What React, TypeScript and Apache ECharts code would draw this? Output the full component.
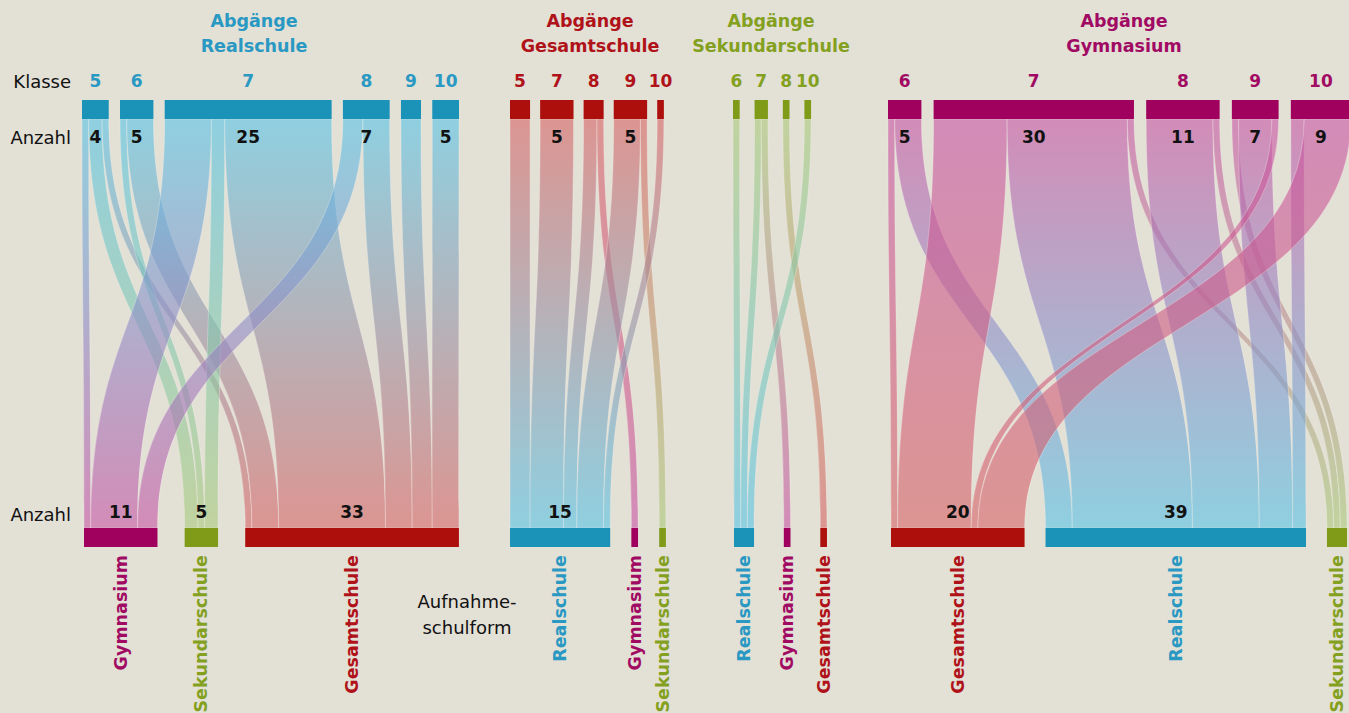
import React, { useEffect, useRef } from 'react';
import * as echarts from 'echarts';

// ---------------- data ----------------
// Abgänge Realschule
const realClasses = ['5', '6', '7', '8', '9', '10'];
const realClassCounts: (number | null)[] = [4, 5, 25, 7, null, 5];
const realTargets = ['Gymnasium', 'Sekundarschule', 'Gesamtschule'];
const realTargetCounts: (number | null)[] = [11, 5, 33];
const realFlows: [string, string, number][] = [
  ['5', 'Gymnasium', 1], ['5', 'Sekundarschule', 2], ['5', 'Gesamtschule', 1],
  ['6', 'Sekundarschule', 1], ['6', 'Gesamtschule', 4],
  ['7', 'Gymnasium', 7], ['7', 'Sekundarschule', 2], ['7', 'Gesamtschule', 16],
  ['8', 'Gymnasium', 3], ['8', 'Gesamtschule', 4],
  ['9', 'Gesamtschule', 3],
  ['10', 'Gesamtschule', 4],
];

// Abgänge Gesamtschule
const gesClasses = ['5', '7', '8', '9', '10'];
const gesClassCounts: (number | null)[] = [null, 5, null, 5, null];
const gesTargets = ['Realschule', 'Gymnasium', 'Sekundarschule'];
const gesTargetCounts: (number | null)[] = [15, null, null];
const gesFlows: [string, string, number][] = [
  ['5', 'Realschule', 3],
  ['7', 'Realschule', 5],
  ['8', 'Realschule', 2], ['8', 'Gymnasium', 1],
  ['9', 'Realschule', 4], ['9', 'Sekundarschule', 1],
  ['10', 'Realschule', 1],
];

// Abgänge Sekundarschule
const sekClasses = ['6', '7', '8', '10'];
const sekClassCounts: (number | null)[] = [null, null, null, null];
const sekTargets = ['Realschule', 'Gymnasium', 'Gesamtschule'];
const sekTargetCounts: (number | null)[] = [null, null, null];
const sekFlows: [string, string, number][] = [
  ['6', 'Realschule', 1],
  ['7', 'Realschule', 1], ['7', 'Gymnasium', 1],
  ['8', 'Gesamtschule', 1],
  ['10', 'Realschule', 1],
];

// Abgänge Gymnasium
const gymClasses = ['6', '7', '8', '9', '10'];
const gymClassCounts: (number | null)[] = [5, 30, 11, 7, 9];
const gymTargets = ['Gesamtschule', 'Realschule', 'Sekundarschule'];
const gymTargetCounts: (number | null)[] = [20, 39, null];
const gymFlows: [string, string, number][] = [
  ['6', 'Gesamtschule', 1], ['6', 'Realschule', 4],
  ['7', 'Gesamtschule', 11], ['7', 'Realschule', 18], ['7', 'Sekundarschule', 1],
  ['8', 'Realschule', 10], ['8', 'Sekundarschule', 1],
  ['9', 'Sekundarschule', 1], ['9', 'Realschule', 5], ['9', 'Gesamtschule', 1],
  ['10', 'Realschule', 2], ['10', 'Gesamtschule', 7],
];

// ---------------- styling / layout ----------------
const BG = '#e3e0d6';
const COLORS: Record<string, { node: string; text: string; flow: string }> = {
  Realschule: { node: '#1b93b9', text: '#2999c3', flow: 'rgba(87,196,231,0.6)' },
  Gesamtschule: { node: '#ad0f0c', text: '#b01219', flow: 'rgba(215,99,100,0.6)' },
  Sekundarschule: { node: '#7f9b17', text: '#84a01f', flow: 'rgba(170,202,122,0.6)' },
  Gymnasium: { node: '#a0005e', text: '#a10a63', flow: 'rgba(199,84,164,0.6)' },
};
const FONT = '"DejaVu Sans", sans-serif';
const X_MAX = 202; // persons across the canvas width
const TOP_Y0 = 100, TOP_Y1 = 119, BOT_Y0 = 528, BOT_Y1 = 547;

const groups = [
  { type: 'Realschule', title: 'Abgänge\nRealschule', titleX: 254,
    classes: realClasses, classCounts: realClassCounts, targets: realTargets, targetCounts: realTargetCounts, flows: realFlows,
    topStart: 12.28, topGap: 1.69, botStart: 12.58, botGap: 4.07 },
  { type: 'Gesamtschule', title: 'Abgänge\nGesamtschule', titleX: 590,
    classes: gesClasses, classCounts: gesClassCounts, targets: gesTargets, targetCounts: gesTargetCounts, flows: gesFlows,
    topStart: 76.37, topGap: 1.51, botStart: 76.37, botGap: 3.17 },
  { type: 'Sekundarschule', title: 'Abgänge\nSekundarschule', titleX: 771,
    classes: sekClasses, classCounts: sekClassCounts, targets: sekTargets, targetCounts: sekTargetCounts, flows: sekFlows,
    topStart: 109.76, topGap: 2.23, botStart: 109.91, botGap: 4.46 },
  { type: 'Gymnasium', title: 'Abgänge\nGymnasium', titleX: 1124,
    classes: gymClasses, classCounts: gymClassCounts, targets: gymTargets, targetCounts: gymTargetCounts, flows: gymFlows,
    topStart: 132.97, topGap: 1.83, botStart: 133.42, botGap: 3.14 },
];

type NodeItem = { x0: number; x1: number; layer: 0 | 1; color: string; name: string; count: number | null };
type FlowItem = { a0: number; a1: number; b0: number; b1: number; src: string; tgt: string };

const nodeItems: NodeItem[] = [];
const flowItems: FlowItem[] = [];

groups.forEach((g) => {
  const topVals = g.classes.map((c) => g.flows.filter((f) => f[0] === c).reduce((s, f) => s + f[2], 0));
  const botVals = g.targets.map((t) => g.flows.filter((f) => f[1] === t).reduce((s, f) => s + f[2], 0));
  const topPos: number[] = [];
  let x = g.topStart;
  topVals.forEach((v, i) => {
    topPos.push(x);
    nodeItems.push({ x0: x, x1: x + v, layer: 0, color: g.type, name: g.classes[i], count: g.classCounts[i] });
    x += v + g.topGap;
  });
  const botPos: number[] = [];
  x = g.botStart;
  botVals.forEach((v, i) => {
    botPos.push(x);
    nodeItems.push({ x0: x, x1: x + v, layer: 1, color: g.targets[i], name: g.targets[i], count: g.targetCounts[i] });
    x += v + g.botGap;
  });
  const topCur = topPos.slice();
  const botCur = botPos.slice();
  g.flows.forEach(([s, t, v]) => {
    const si = g.classes.indexOf(s);
    const ti = g.targets.indexOf(t);
    const a0 = topCur[si];
    const b0 = botCur[ti];
    topCur[si] += v;
    botCur[ti] += v;
    flowItems.push({ a0, a1: a0 + v, b0, b1: b0 + v, src: g.type, tgt: t });
  });
});

export default function App() {
  const ref = useRef<HTMLDivElement>(null);
  useEffect(() => {
    if (!ref.current) return;
    const chart = echarts.init(ref.current, null, { renderer: 'svg' });
    const textBase = { fontFamily: FONT };
    chart.setOption({
      animation: false,
      backgroundColor: BG,
      grid: { left: 0, right: 0, top: 0, bottom: 0 },
      xAxis: { type: 'value', min: 0, max: X_MAX, show: false },
      yAxis: { type: 'value', min: 0, max: 713, inverse: true, show: false },
      graphic: [
        ...groups.map((g) => ({
          type: 'text', x: g.titleX, y: 8,
          style: { ...textBase, text: g.title, align: 'center', verticalAlign: 'top', lineHeight: 25,
            fontSize: 17.5, fontWeight: 'bold', fill: COLORS[g.type].text },
        })),
        { type: 'text', x: 71, y: 81, style: { ...textBase, text: 'Klasse', align: 'right', verticalAlign: 'middle', fontSize: 18, fill: '#111' } },
        { type: 'text', x: 71, y: 137, style: { ...textBase, text: 'Anzahl', align: 'right', verticalAlign: 'middle', fontSize: 18, fill: '#111' } },
        { type: 'text', x: 71, y: 514, style: { ...textBase, text: 'Anzahl', align: 'right', verticalAlign: 'middle', fontSize: 18, fill: '#111' } },
        { type: 'text', x: 467, y: 588, style: { ...textBase, text: 'Aufnahme-\nschulform', align: 'center', verticalAlign: 'top', lineHeight: 26, fontSize: 18, fill: '#111' } },
      ],
      series: [
        {
          type: 'custom',
          silent: true,
          data: flowItems.map((f) => [f.a0, f.a1, f.b0, f.b1]),
          renderItem: (params: any, api: any) => {
            const f = flowItems[params.dataIndex];
            const [a0, y0] = api.coord([api.value(0), TOP_Y1]);
            const [a1] = api.coord([api.value(1), TOP_Y1]);
            const [b0, y1] = api.coord([api.value(2), BOT_Y0]);
            const [b1] = api.coord([api.value(3), BOT_Y0]);
            const ym = (y0 + y1) / 2;
            const d = `M${a0},${y0} L${a1},${y0} C${a1},${ym} ${b1},${ym} ${b1},${y1} L${b0},${y1} C${b0},${ym} ${a0},${ym} ${a0},${y0} Z`;
            return {
              type: 'path',
              shape: { pathData: d },
              style: {
                fill: new echarts.graphic.LinearGradient(0, 0, 0, 1, [
                  { offset: 0, color: COLORS[f.src].flow },
                  { offset: 1, color: COLORS[f.tgt].flow },
                ]),
                stroke: 'rgba(245,243,236,0.45)',
                lineWidth: 0.7,
              },
            };
          },
        },
        {
          type: 'custom',
          silent: true,
          data: nodeItems.map((n) => [n.x0, n.x1]),
          renderItem: (params: any, api: any) => {
            const n = nodeItems[params.dataIndex];
            const yA = n.layer === 0 ? TOP_Y0 : BOT_Y0;
            const yB = n.layer === 0 ? TOP_Y1 : BOT_Y1;
            const [x0, py0] = api.coord([api.value(0), yA]);
            const [x1, py1] = api.coord([api.value(1), yB]);
            const cx = (x0 + x1) / 2;
            const children: any[] = [
              { type: 'rect', shape: { x: x0, y: py0, width: x1 - x0, height: py1 - py0 }, style: { fill: COLORS[n.color].node } },
            ];
            if (n.layer === 0) {
              children.push({ type: 'text', x: cx, y: 81, style: { ...textBase, text: n.name, align: 'center', verticalAlign: 'middle', fontSize: 17, fontWeight: 'bold', fill: COLORS[n.color].text } });
              if (n.count != null) children.push({ type: 'text', x: cx, y: 137, style: { ...textBase, text: String(n.count), align: 'center', verticalAlign: 'middle', fontSize: 17, fontWeight: 'bold', fill: '#111' } });
            } else {
              if (n.count != null) children.push({ type: 'text', x: cx, y: 512, style: { ...textBase, text: String(n.count), align: 'center', verticalAlign: 'middle', fontSize: 17, fontWeight: 'bold', fill: '#111' } });
              children.push({ type: 'text', x: cx, y: 555, rotation: Math.PI / 2, style: { ...textBase, text: n.name, align: 'right', verticalAlign: 'middle', fontSize: 17.5, fontWeight: 'bold', fill: COLORS[n.color].text } });
            }
            return { type: 'group', children };
          },
        },
      ],
    });
    return () => chart.dispose();
  }, []);
  return <div ref={ref} style={{ position: 'fixed', left: 0, top: 0, width: 1349, height: 713, background: BG }} />;
}
